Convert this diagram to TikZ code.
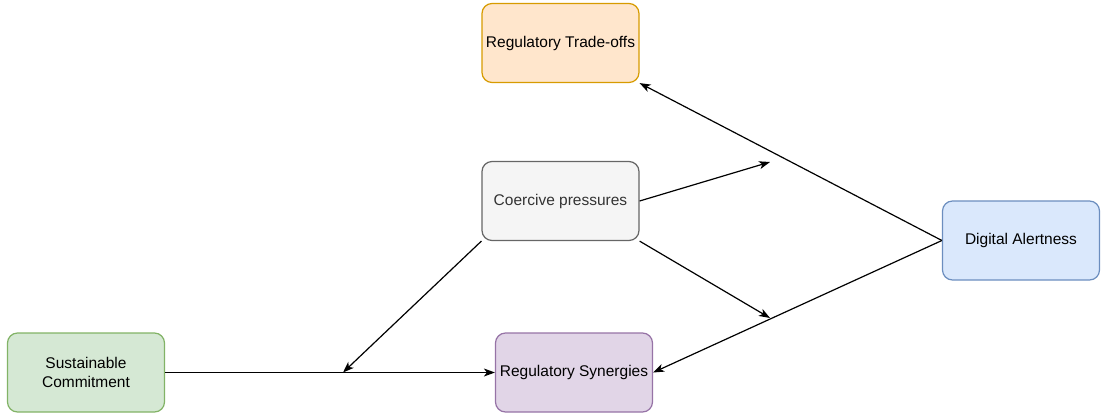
\documentclass[tikz,border=0pt]{standalone}
\usepackage{fontspec}
\setmainfont{Liberation Sans}
\usetikzlibrary{arrows.meta}
\definecolor{orangefill}{HTML}{FFE6CC}
\definecolor{orangeline}{HTML}{D79B00}
\definecolor{grayfill}{HTML}{F5F5F5}
\definecolor{grayline}{HTML}{666666}
\definecolor{graytext}{HTML}{333333}
\definecolor{bluefill}{HTML}{DAE8FC}
\definecolor{blueline}{HTML}{6C8EBF}
\definecolor{greenfill}{HTML}{D5E8D4}
\definecolor{greenline}{HTML}{82B366}
\definecolor{purplefill}{HTML}{E1D5E7}
\definecolor{purpleline}{HTML}{9673A6}
\tikzset{
  box/.style={draw, rounded corners=10pt, line width=1.2pt,
    minimum width=157pt, minimum height=79pt, inner sep=0pt,
    align=center, font=\fontsize{15.5}{19}\selectfont},
  link/.style={draw=black, line width=1.2pt,
    -{Stealth[length=11pt, width=8pt, inset=3pt]}},
}
\begin{document}
\begin{tikzpicture}[x=1pt, y=-1pt]
  \useasboundingbox (0,0) rectangle (1101,416);

  \node[box, fill=orangefill, draw=orangeline] (trade) at (560.5,43) {Regulatory Trade-offs};
  \node[box, fill=grayfill, draw=grayline, text=graytext] (coerc) at (560.5,201) {Coercive pressures};
  \node[box, fill=bluefill, draw=blueline] (alert) at (1021,240.5) {Digital Alertness};
  \node[box, fill=greenfill, draw=greenline] (commit) at (86,372.5) {Sustainable\\Commitment};
  \node[box, fill=purplefill, draw=purpleline] (syn) at (574,372.5) {Regulatory Synergies};

  % points where the moderating arrows meet the main paths
  \coordinate (onlower) at (343,372.5);
  \coordinate (ontrade) at (770,162);
  \coordinate (onsyn) at (770,318);

  \draw[link] (alert.west) -- (trade.south east);
  \draw[link] (alert.west) -- (syn.east);
  \draw[link] (commit.east) -- (syn.west);
  \draw[link] (coerc.south west) -- (onlower);
  \draw[link] (coerc.east) -- (ontrade);
  \draw[link] (coerc.south east) -- (onsyn);
\end{tikzpicture}
\end{document}
